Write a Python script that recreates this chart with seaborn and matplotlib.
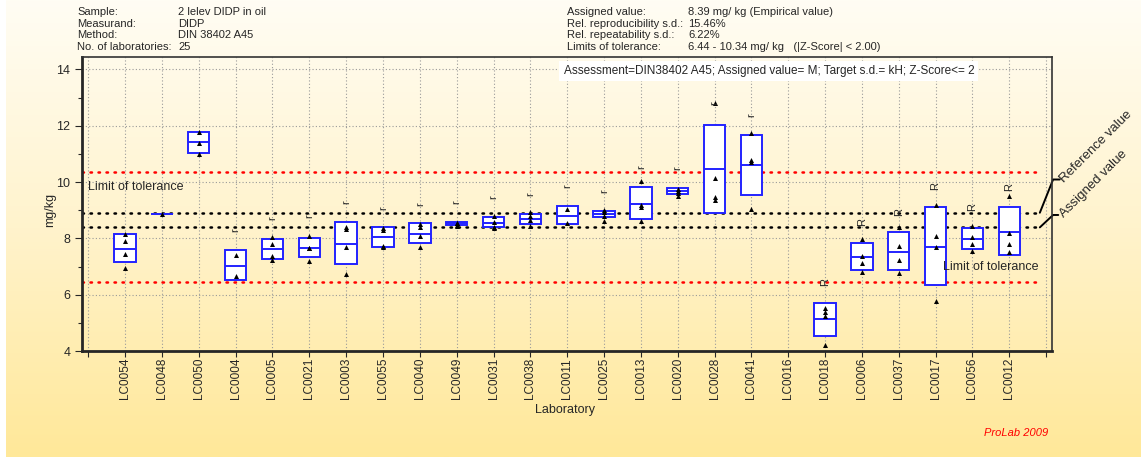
import numpy as np
import pandas as pd
import seaborn as sns
import matplotlib.pyplot as plt
from matplotlib.colors import LinearSegmentedColormap

# laboratories in plot order
labs = ['LC0054', 'LC0048', 'LC0050', 'LC0004', 'LC0005', 'LC0021', 'LC0003',
        'LC0055', 'LC0040', 'LC0049', 'LC0031', 'LC0038', 'LC0011', 'LC0025',
        'LC0013', 'LC0020', 'LC0028', 'LC0041', 'LC0016', 'LC0018', 'LC0006',
        'LC0037', 'LC0017', 'LC0056', 'LC0012']

# single results of each lab (mg/kg)
values = [[8.15, 7.89, 7.44, 6.93], [8.86], [11.79, 11.40, 10.98], [7.40, 6.65],
          [8.06, 7.79, 7.37, 7.24], [8.07, 7.67, 7.65, 7.20], [8.39, 8.34, 7.68, 6.73],
          [8.38, 8.30, 7.73, 7.68], [8.50, 8.41, 8.08, 7.68], [8.56, 8.53, 8.47, 8.44],
          [8.79, 8.58, 8.39, 8.38], [8.92, 8.80, 8.65, 8.45], [9.03, 8.53],
          [8.99, 8.92, 8.79, 8.62], [10.04, 9.18, 9.12, 8.62], [9.76, 9.69, 9.62, 9.50],
          [12.79, 10.13, 9.48, 9.36], [11.73, 10.78, 10.72, 9.05], [],
          [5.54, 5.37, 5.25, 4.20], [7.98, 7.38, 7.12, 6.82], [8.39, 7.74, 7.24, 6.77],
          [9.18, 8.08, 7.69, 5.79], [8.45, 8.04, 7.79, 7.54], [9.50, 8.19, 7.79, 7.50]]

# box = mean +/- s.d., line = mean
box_lo = [7.15, 8.86, 11.03, 6.53, 7.27, 7.33, 7.08, 7.69, 7.85, 8.49, 8.39, 8.50,
          8.50, 8.75, 8.69, 9.57, 8.91, 9.53, np.nan, 4.53, 6.86, 6.86, 6.33, 7.61, 7.40]
box_hi = [8.15, 8.86, 11.79, 7.57, 7.99, 8.02, 8.57, 8.41, 8.53, 8.58, 8.75, 8.86,
          9.16, 8.98, 9.83, 9.79, 12.04, 11.66, np.nan, 5.69, 7.82, 8.24, 9.11, 8.36, 9.12]
box_mid = [7.61, 8.86, 11.41, 7.03, 7.61, 7.65, 7.79, 8.05, 8.17, 8.53, 8.56, 8.68,
           8.79, 8.86, 9.23, 9.68, 10.46, 10.59, np.nan, 5.14, 7.33, 7.53, 7.69, 7.96, 8.24]

# r / R flags above the boxes
flags = ['', '', '', 'r', 'r', 'r', 'r', 'r', 'r', 'r', 'r', 'r', 'r', 'r', 'r', 'r',
         'r', 'r', '', 'R', 'R', 'R', 'R', 'R', 'R']
flag_y = [np.nan, np.nan, np.nan, 8.30, 8.71, 8.79, 9.27, 9.07, 9.22, 9.27, 9.46, 9.56,
          9.87, 9.69, 10.52, 10.49, 12.79, 12.37, np.nan, 6.44, 8.57, 8.95, 9.86, 9.10, 9.83]

assigned = 8.39
reference = 8.91
tol_lo, tol_hi = 6.44, 10.34

header_left = [('Sample:', '2 lelev DIDP in oil'), ('Measurand:', 'DIDP'),
               ('Method:', 'DIN 38402 A45'), ('No. of laboratories:', '25')]
header_right = [('Assigned value:', '8.39 mg/ kg (Empirical value)'),
                ('Rel. reproducibility s.d.:', '15.46%'),
                ('Rel. repeatability s.d.:', '6.22%'),
                ('Limits of tolerance:', '6.44 - 10.34 mg/ kg   (|Z-Score| < 2.00)')]

sns.set_style('ticks')
plt.rcParams['font.family'] = ['Liberation Sans', 'DejaVu Sans']

pos = np.arange(1, len(labs) + 1)
rows = []
for p, lab, vals in zip(pos, labs, values):
    for v in vals:
        rows.append({'pos': p, 'lab': lab, 'value': v})
df = pd.DataFrame(rows)

fig = plt.figure(figsize=(11.41, 4.59), dpi=100)
fig.patch.set_facecolor('white')

# yellow gradient background (thin white strip left and bottom)
bg = fig.add_axes([6 / 1141, 2 / 459, 1 - 6 / 1141, 1 - 2 / 459], zorder=-10)
grad = np.linspace(0, 1, 256).reshape(-1, 1)
cmap = LinearSegmentedColormap.from_list('bg', ['#fffdf4', '#fff3cc', '#ffe899'])
bg.imshow(grad, aspect='auto', cmap=cmap, extent=[0, 1, 0, 1])
bg.axis('off')

ax = fig.add_axes([82 / 1141, 108 / 459, 970 / 1141, 294 / 459])
ax.set_facecolor('none')

# tolerance / assigned / reference lines
for y, c in [(tol_hi, 'red'), (tol_lo, 'red'), (reference, 'black'), (assigned, 'black')]:
    ax.axhline(y, xmin=0.0, xmax=0.99, color=c, lw=1.8, ls=(0, (0.6, 2.6)),
               dash_capstyle='round', zorder=1)

# boxes
ok = ~np.isnan(box_lo)
lo = np.array(box_lo)[ok]
hi = np.array(box_hi)[ok]
mid = np.array(box_mid)[ok]
ax.bar(pos[ok], hi - lo, bottom=lo, width=0.58, facecolor='white',
       edgecolor='#2222ff', linewidth=1.4, zorder=2)
ax.hlines(mid, pos[ok] - 0.29, pos[ok] + 0.29, color='#2222ff', lw=1.4, zorder=3)

sns.scatterplot(data=df, x='pos', y='value', marker='^', color='black', s=13,
                linewidth=0, ax=ax, zorder=4)

for p, f, fy in zip(pos, flags, flag_y):
    if f:
        ax.text(p, fy, f, rotation=90, ha='center', va='center', fontsize=8, zorder=5)

ax.text(-0.02, 9.83, 'Limit of tolerance', fontsize=9, va='center', ha='left')
ax.text(25.8, 6.97, 'Limit of tolerance', fontsize=9, va='center', ha='right')

ax.text(12.9, 13.93, 'Assessment=DIN38402 A45; Assigned value= M; Target s.d.= kH; Z-Score<= 2',
        fontsize=8.5, va='center', ha='left', zorder=6,
        bbox=dict(boxstyle='square,pad=0.35', fc='white', ec='none'))

# bracket annotations right of the axes
ax.plot([25.83, 26.19, 26.37], [reference, 10.09, 10.09], color='black', lw=1.4, clip_on=False)
ax.plot([25.83, 26.19, 26.33], [assigned, 8.83, 8.83], color='black', lw=1.4, clip_on=False)
ax.text(26.42, 10.05, 'Reference value', rotation=45, rotation_mode='anchor',
        ha='left', va='center', fontsize=9.5, clip_on=False)
ax.text(26.42, 8.80, 'Assigned value', rotation=45, rotation_mode='anchor',
        ha='left', va='center', fontsize=9.5, clip_on=False)

ax.set_xlim(-0.17, 26.16)
ax.set_ylim(4, 14.44)
ax.set_xticks(np.arange(0, len(labs) + 2))
ax.set_xticklabels([''] + labs + [''], rotation=90, fontsize=8.5)
ax.set_yticks([4, 6, 8, 10, 12, 14])
ax.set_yticks([5, 7, 9, 11, 13], minor=True)
ax.tick_params(axis='y', labelsize=9, length=5, width=0.8)
ax.tick_params(axis='y', which='minor', length=3, width=0.8)
ax.tick_params(axis='x', length=4, width=0.8, pad=1)
ax.grid(True, which='major', color='#9a9a9a', ls=(0, (1, 2)), lw=0.8)
ax.set_xlabel('')
ax.set_ylabel('')
for s in ['left', 'bottom']:
    ax.spines[s].set_linewidth(2.0)
for s in ['right', 'top']:
    ax.spines[s].set_linewidth(1.2)
    ax.spines[s].set_color('#333333')
    ax.spines[s].set_visible(True)

fig.text(50 / 1141, 1 - 210 / 459, 'mg/kg', rotation=90, ha='center', va='center', fontsize=9)
fig.text(565 / 1141, 1 - 410 / 459, 'Laboratory', ha='center', va='center', fontsize=9)
fig.text(1048 / 1141, 1 - 433 / 459, 'ProLab 2009', ha='right', va='center',
         fontsize=8, color='red', style='italic')

row_y = [12, 24, 35.5, 47]
for (k, v), y in zip(header_left, row_y):
    fig.text(77 / 1141, 1 - y / 459, k, fontsize=8, va='center')
    fig.text(178 / 1141, 1 - y / 459, v, fontsize=8, va='center')
for (k, v), y in zip(header_right, row_y):
    fig.text(567 / 1141, 1 - y / 459, k, fontsize=8, va='center')
    fig.text(688 / 1141, 1 - y / 459, v, fontsize=8, va='center')

fig.savefig('out.png', dpi=100)
